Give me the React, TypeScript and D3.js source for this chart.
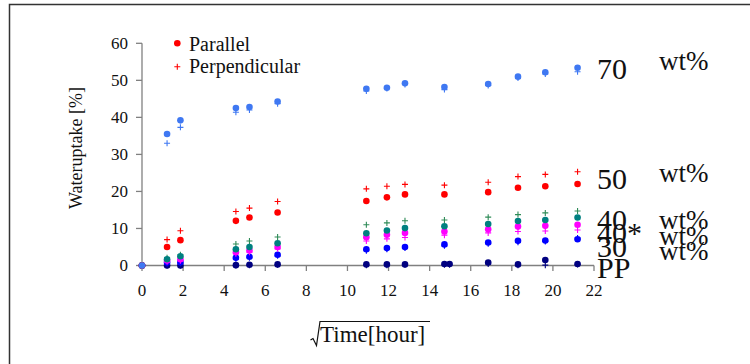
import React from 'react';
import * as d3 from 'd3';

// sqrt(time) sampling points
const times = [0, 1.22, 1.87, 4.57, 5.23, 6.6, 10.92, 11.92, 12.8, 14.72, 16.85, 18.3, 19.63, 21.2];
const timesPP = [0, 1.22, 1.87, 4.57, 5.23, 6.6, 10.92, 11.92, 12.8, 14.72, 14.97, 16.85, 18.3, 19.63, 21.2];

const par70 = [0, 35.5, 39.2, 42.5, 42.8, 44.3, 47.7, 48.0, 49.2, 48.2, 49.0, 51.0, 52.2, 53.4];
const perp70 = [0, 33.0, 37.3, 41.4, 42.0, 43.7, 47.1, 47.8, 48.9, 47.5, 48.6, 50.6, 51.7, 52.3];
const par50 = [0, 5.0, 6.85, 12.05, 12.95, 14.3, 17.4, 18.4, 19.2, 19.2, 19.8, 21.0, 21.4, 22.0];
const perp50 = [0, 7.0, 9.4, 14.6, 15.5, 17.3, 20.7, 21.4, 21.9, 21.7, 22.5, 24.0, 24.6, 25.3];
const par40 = [0, 1.7, 2.5, 4.4, 5.0, 6.0, 8.7, 9.45, 10.1, 10.6, 11.2, 12.0, 12.3, 12.95];
const perp40 = [0, 2.1, 2.9, 5.8, 6.6, 7.7, 11.0, 11.5, 12.1, 12.3, 13.05, 13.75, 14.2, 14.7];
const par40s = [0, 1.35, 1.7, 3.6, 4.05, 5.0, 7.65, 8.3, 8.8, 9.2, 9.8, 10.5, 10.7, 11.0];
const perp40s = [0, 1.0, 1.3, 3.2, 3.6, 4.5, 6.6, 7.2, 7.55, 8.2, 8.8, 9.2, 9.3, 9.6];
const par30 = [0, 0.8, 0.9, 2.1, 2.35, 2.9, 4.4, 4.7, 5.0, 5.7, 6.2, 6.65, 6.75, 7.1];
const perp30 = [0, 0.5, 0.6, 1.8, 2.1, 2.6, 4.0, 4.4, 4.7, 5.3, 5.9, 6.3, 6.5, 7.4];
const parPP = [0, 0, 0, 0.1, 0.2, 0.3, 0.3, 0.3, 0.3, 0.4, 0.4, 0.8, 0.3, 1.5, 0.4];
const perpPP = [0, 0, 0, 0, 0.1, 0.2, 0.1, 0.1, 0.2, 0.2, 0.2, 0.4, 0.1, 0.1, 0.3];

const xTicks = [0, 2, 4, 6, 8, 10, 12, 14, 16, 18, 20, 22];
const yTicks = [0, 10, 20, 30, 40, 50, 60];

// drawn bottom to top
const series = [
  { name: 'PP', xs: timesPP, par: parPP, perp: perpPP, dot: '#000080', plus: '#000080' },
  { name: '30', xs: times, par: par30, perp: perp30, dot: '#0000ff', plus: '#0000ff' },
  { name: '40*', xs: times, par: par40s, perp: perp40s, dot: '#ff00ff', plus: '#ff00ff' },
  { name: '40', xs: times, par: par40, perp: perp40, dot: '#008080', plus: '#2e8b57' },
  { name: '50', xs: times, par: par50, perp: perp50, dot: '#ff0000', plus: '#ff0000' },
  { name: '70', xs: times, par: par70, perp: perp70, dot: '#3f78f2', plus: '#3f78f2' },
];

// end labels: number baseline and wt% baseline
const endLabels = [
  { t: '70', y: 79, wy: 70 },
  { t: '50', y: 189, wy: 182 },
  { t: '40', y: 230, wy: 229 },
  { t: '40*', y: 243, wy: 245 },
  { t: '30', y: 257, wy: 260 },
];

const serif = 'Liberation Serif, Times New Roman, DejaVu Serif, serif';

export default function App() {
  const x = d3.scaleLinear().domain([0, 22]).range([142, 594]);
  const y = d3.scaleLinear().domain([0, 60]).range([265.5, 43.3]);
  const axisColor = '#808080';

  return (
    <div style={{ position: 'fixed', left: 0, top: 0 }}>
      <svg width={750} height={364} style={{ display: 'block', background: '#fff', fontFamily: serif }}>
        <rect x={9.5} y={4.5} width={800} height={400} fill="none" stroke="#333" strokeWidth={1.5} />

        {/* axes */}
        <line x1={x(0)} x2={x(0)} y1={y(60)} y2={y(0)} stroke={axisColor} strokeWidth={1.3} />
        <line x1={x(0)} x2={x(22)} y1={y(0)} y2={y(0)} stroke={axisColor} strokeWidth={1.3} />
        {yTicks.map(t => (
          <g key={'y' + t}>
            <line x1={x(0) - 6} x2={x(0)} y1={y(t)} y2={y(t)} stroke={axisColor} strokeWidth={1.3} />
            <text x={128} y={y(t) + 5.5} textAnchor="end" style={{ fontFamily: serif, fontSize: 17 }} fill="#111">{t}</text>
          </g>
        ))}
        {xTicks.map(t => (
          <g key={'x' + t}>
            <line x1={x(t)} x2={x(t)} y1={y(0)} y2={y(0) + 5.5} stroke={axisColor} strokeWidth={1.3} />
            <text x={x(t)} y={296} textAnchor="middle" style={{ fontFamily: serif, fontSize: 17 }} fill="#111">{t}</text>
          </g>
        ))}

        {/* markers */}
        {series.map(s => (
          <g key={s.name}>
            {s.perp.map((v, i) => {
              const cx = x(s.xs[i]);
              const cy = y(v);
              return (
                <path key={'p' + i} d={`M${cx - 3},${cy}H${cx + 3}M${cx},${cy - 3}V${cy + 3}`}
                  stroke={s.plus} strokeWidth={1.1} fill="none" />
              );
            })}
            {s.par.map((v, i) => (
              <circle key={'c' + i} cx={x(s.xs[i])} cy={y(v)} r={3.3} fill={s.dot} />
            ))}
          </g>
        ))}

        {/* legend */}
        <circle cx={177.3} cy={43.3} r={3.3} fill="#ff0000" />
        <text x={189} y={50.5} style={{ fontFamily: serif, fontSize: 20 }} fill="#111">Parallel</text>
        <path d="M174.3,66.7H180.3M177.3,63.7V69.7" stroke="#ff0000" strokeWidth={1.1} />
        <text x={189} y={73} style={{ fontFamily: serif, fontSize: 20 }} fill="#111">Perpendicular</text>

        {/* axis titles */}
        <text transform="translate(82,148) rotate(-90)" textAnchor="middle" style={{ fontFamily: serif, fontSize: 18 }} fill="#111">
          Wateruptake [%]
        </text>
        <path d="M310.5,340 L313,338.5 L316.5,345.5 L320,321.5 L430,321.5" stroke="#111" strokeWidth={1.2} fill="none" />
        <text x={320} y={342} style={{ fontFamily: serif, fontSize: 23 }} fill="#111">Time[hour]</text>

        {/* end labels */}
        {endLabels.map(l => (
          <g key={l.t}>
            <text x={597} y={l.y} style={{ fontFamily: serif, fontSize: 30 }} fill="#111">{l.t}</text>
            <text x={659} y={l.wy} style={{ fontFamily: serif, fontSize: 27 }} fill="#111">wt%</text>
          </g>
        ))}
        <text x={597} y={278} style={{ fontFamily: serif, fontSize: 30 }} fill="#111">PP</text>
      </svg>
    </div>
  );
}
